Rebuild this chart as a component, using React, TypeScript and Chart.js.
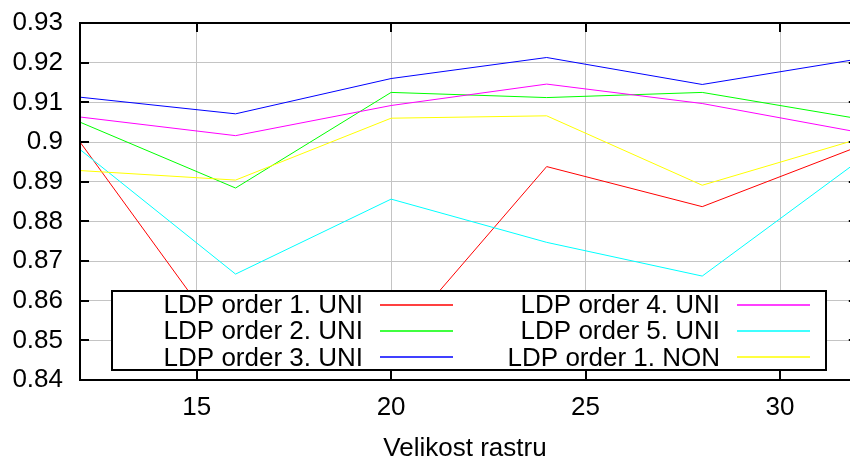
import { useEffect, useRef } from "react";
import { Chart, registerables } from "chart.js";

Chart.register(...registerables);

const xValues = [12, 16, 20, 24, 28, 32];

const seriesLabels = [
  "LDP order 1. UNI",
  "LDP order 2. UNI",
  "LDP order 3. UNI",
  "LDP order 4. UNI",
  "LDP order 5. UNI",
  "LDP order 1. NON",
];

const order1Uni = [0.9, 0.8461, 0.8483, 0.8938, 0.8837, 0.8988];
const order2Uni = [0.905, 0.8884, 0.9125, 0.9112, 0.9125, 0.9059];
const order3Uni = [0.9113, 0.9071, 0.916, 0.9213, 0.9145, 0.9209];
const order4Uni = [0.9063, 0.9016, 0.9092, 0.9146, 0.9097, 0.9025];
const order5Uni = [0.8981, 0.8667, 0.8856, 0.8747, 0.8662, 0.8951];
const order1Non = [0.8928, 0.8904, 0.906, 0.9066, 0.8891, 0.9007];

const seriesValues = [order1Uni, order2Uni, order3Uni, order4Uni, order5Uni, order1Non];
const seriesColors = ["#ff0000", "#00ff00", "#0000ff", "#ff00ff", "#00ffff", "#ffff00"];

const xTicks = [15, 20, 25, 30];
const yTicks = [0.84, 0.85, 0.86, 0.87, 0.88, 0.89, 0.9, 0.91, 0.92, 0.93];
const xTitle = "Velikost rastru";

const FONT = "'Liberation Sans', Arial, Helvetica, sans-serif";
const FONT_SIZE = 26;

const framePlugin = {
  id: "gnuplotFrame",
  afterDatasetsDraw(chart: any) {
    const { ctx, chartArea } = chart;
    const xs = chart.scales.x;
    const ys = chart.scales.y;
    const { left, top, bottom } = chartArea;
    const rightEdge = xs.getPixelForValue(32);
    ctx.save();
    ctx.strokeStyle = "#000";
    ctx.lineWidth = 2;
    ctx.lineCap = "butt";
    ctx.beginPath();
    ctx.moveTo(rightEdge, top);
    ctx.lineTo(left, top);
    ctx.lineTo(left, bottom);
    ctx.lineTo(rightEdge, bottom);
    ctx.stroke();
    const tl = 9;
    ctx.beginPath();
    for (const v of xTicks) {
      const px = Math.round(xs.getPixelForValue(v));
      ctx.moveTo(px, top);
      ctx.lineTo(px, top + tl);
      ctx.moveTo(px, bottom);
      ctx.lineTo(px, bottom - tl);
    }
    for (const v of yTicks) {
      const py = Math.round(ys.getPixelForValue(v));
      ctx.moveTo(left, py);
      ctx.lineTo(left + tl, py);
      ctx.moveTo(rightEdge, py);
      ctx.lineTo(rightEdge - tl, py);
    }
    ctx.stroke();
    ctx.restore();
  },
};

const legendPlugin = {
  id: "gnuplotKey",
  afterDatasetsDraw(chart: any) {
    const { ctx, chartArea } = chart;
    const { left, bottom } = chartArea;
    const bx1 = left + 32;
    const by1 = bottom - 89;
    const bx2 = left + 746;
    const by2 = bottom - 10;
    ctx.save();
    ctx.fillStyle = "#fff";
    ctx.fillRect(bx1, by1, bx2 - bx1, by2 - by1);
    ctx.strokeStyle = "#000";
    ctx.lineWidth = 2;
    ctx.strokeRect(bx1, by1, bx2 - bx1, by2 - by1);
    ctx.font = `${FONT_SIZE}px ${FONT}`;
    ctx.textAlign = "right";
    ctx.textBaseline = "middle";
    const rowStart = by1 + 14;
    const rowH = 26.2;
    const cols = [
      { textRight: left + 283, s1: left + 300, s2: left + 373 },
      { textRight: left + 640, s1: left + 657, s2: left + 730 },
    ];
    seriesLabels.forEach((label, i) => {
      const col = cols[Math.floor(i / 3)];
      const row = i % 3;
      const y = rowStart + row * rowH;
      ctx.fillStyle = "#000";
      ctx.fillText(label, col.textRight, y + 1);
      ctx.strokeStyle = seriesColors[i];
      ctx.lineWidth = 1.5;
      ctx.beginPath();
      ctx.moveTo(col.s1, Math.round(y));
      ctx.lineTo(col.s2, Math.round(y));
      ctx.stroke();
    });
    ctx.restore();
  },
};

export default function App() {
  const ref = useRef<HTMLCanvasElement | null>(null);
  useEffect(() => {
    if (!ref.current) return;
    const chart = new Chart(ref.current, {
      type: "line",
      data: {
        datasets: seriesLabels.map((label, i) => ({
          label,
          data: xValues.map((x, j) => ({ x, y: seriesValues[i][j] })),
          borderColor: seriesColors[i],
          backgroundColor: seriesColors[i],
          borderWidth: 1,
          pointRadius: 0,
          fill: false,
          tension: 0,
          order: seriesLabels.length - i,
        })),
      },
      options: {
        animation: false,
        responsive: false,
        devicePixelRatio: 1,
        layout: { padding: { top: 23, left: 0, right: 0, bottom: 0 } },
        plugins: {
          legend: { display: false },
          tooltip: { enabled: false },
        },
        scales: {
          x: {
            type: "linear",
            min: 12,
            max: 31.8,
            afterBuildTicks: (scale: any) => {
              scale.ticks = xTicks.map((v) => ({ value: v }));
            },
            afterFit: (scale: any) => {
              scale.height = 77;
              scale.paddingLeft = 0;
              scale.paddingRight = 0;
            },
            grid: { color: "#c4c4c4", lineWidth: 1, drawTicks: false },
            border: { display: false },
            ticks: {
              padding: 12,
              color: "#000",
              font: { family: FONT, size: FONT_SIZE },
              maxRotation: 0,
              callback: (v: any) => String(v),
            },
            title: {
              display: true,
              text: xTitle,
              color: "#000",
              font: { family: FONT, size: FONT_SIZE, lineHeight: 1 },
              padding: { top: 0, bottom: -5 },
            },
          },
          y: {
            type: "linear",
            min: 0.84,
            max: 0.93,
            afterBuildTicks: (scale: any) => {
              scale.ticks = yTicks.map((v) => ({ value: v }));
            },
            afterFit: (scale: any) => {
              scale.width = 80;
              scale.paddingTop = 0;
              scale.paddingBottom = 0;
            },
            grid: { color: "#c4c4c4", lineWidth: 1, drawTicks: false },
            border: { display: false },
            ticks: {
              padding: 17,
              color: "#000",
              font: { family: FONT, size: FONT_SIZE },
              callback: (v: any) => String(Number(Number(v).toFixed(2))),
            },
          },
        },
      },
      plugins: [framePlugin, legendPlugin],
    } as any);
    return () => chart.destroy();
  }, []);
  return (
    <div style={{ position: "absolute", left: 0, top: 0, width: 850, height: 457, background: "#fff" }}>
      <canvas ref={ref} width={850} height={457} style={{ display: "block", width: 850, height: 457 }} />
    </div>
  );
}
